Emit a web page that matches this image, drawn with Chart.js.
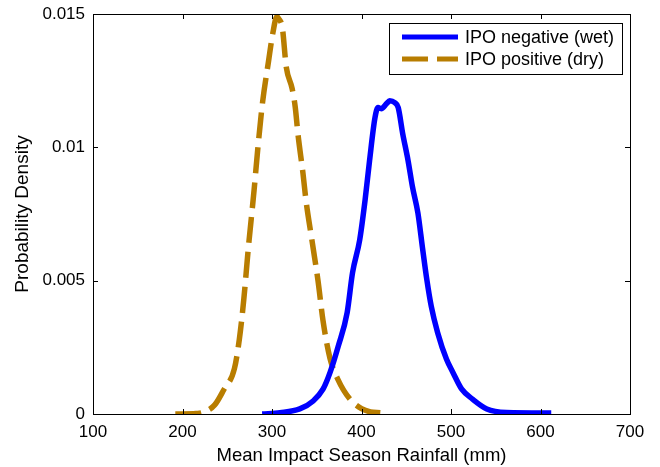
<!DOCTYPE html>
<html>
<head>
<meta charset="utf-8">
<script src="https://cdn.jsdelivr.net/npm/chart.js@4"></script>
<style>
  html, body { margin: 0; padding: 0; background: #fff; }
  #wrap { width: 660px; height: 467px; }
</style>
</head>
<body>
<div id="wrap"><canvas id="pdfChart" width="660" height="467"></canvas></div>
<script>
// rainfall (mm) vs probability density
const wetRain = [289, 309, 331, 346, 357, 365, 374, 384, 390, 398, 404, 409, 415, 418.5, 422, 428, 431.5, 437, 441, 446, 452, 457, 463, 468, 473, 478, 485, 495, 502, 512, 524, 540, 562, 612];
const wetDensity = [0, 0.00005, 0.00019, 0.00049, 0.00093, 0.00157, 0.00254, 0.00381, 0.0053, 0.00653, 0.00802, 0.0095, 0.0111, 0.01149, 0.01145, 0.01164, 0.01175, 0.01168, 0.01149, 0.01052, 0.00951, 0.00851, 0.00754, 0.00627, 0.00504, 0.00403, 0.00306, 0.00205, 0.00157, 0.00093, 0.00056, 0.00019, 0.00006, 0.00004];

const dryRain = [192, 215, 222, 236, 246, 258, 263.5, 268.5, 273.5, 280, 284, 289.5, 296, 301, 305.5, 308, 311.5, 316, 322.5, 326, 329, 334.7, 338, 344.7, 351.4, 357, 364.7, 373.6, 387, 400, 410, 421];
const dryDensity = [0, 0.00002, 0.00005, 0.00034, 0.0009, 0.0017, 0.0028, 0.0043, 0.0062, 0.0084, 0.0099, 0.0117, 0.0132, 0.0143, 0.0149, 0.0148, 0.0145, 0.0130, 0.0122, 0.0115, 0.0105, 0.0090, 0.0080, 0.0065, 0.0050, 0.0035, 0.0021, 0.0013, 0.00056, 0.0002, 0.00008, 0.00005];

const seriesNames = ['IPO negative (wet)', 'IPO positive (dry)'];
const xTicks = [100, 200, 300, 400, 500, 600, 700];
const yTicks = [0, 0.005, 0.01, 0.015];

const FONT = '"Liberation Sans", Arial, sans-serif';
const BLUE = '#0000ff';
const BROWN = '#b87d00';
const DASH = [26, 9];
const LINE_W = 5.5;

function toPoints(xs, ys) {
    return xs.map((x, i) => ({ x: x, y: ys[i] }));
}

// matlab style box with inward ticks + legend box
const boxPlugin = {
    id: 'boxPlugin',
    afterDraw(chart) {
        const c = chart.ctx;
        const a = chart.chartArea;
        const xs = chart.scales.x, ys = chart.scales.y;
        c.save();
        c.strokeStyle = '#000';
        c.lineWidth = 1;
        c.strokeRect(Math.round(a.left) + 0.5, Math.round(a.top) + 0.5,
            Math.round(a.right - a.left), Math.round(a.bottom - a.top));
        c.beginPath();
        xTicks.forEach(v => {
            const px = Math.round(xs.getPixelForValue(v)) + 0.5;
            c.moveTo(px, a.bottom); c.lineTo(px, a.bottom - 5);
            c.moveTo(px, a.top); c.lineTo(px, a.top + 5);
        });
        yTicks.forEach(v => {
            const py = Math.round(ys.getPixelForValue(v)) + 0.5;
            c.moveTo(a.left, py); c.lineTo(a.left + 5, py);
            c.moveTo(a.right, py); c.lineTo(a.right - 5, py);
        });
        c.stroke();

        // legend
        const lx = 389, ly = 23, lw = 233, lh = 51;
        c.fillStyle = '#fff';
        c.fillRect(lx, ly, lw, lh);
        c.strokeRect(lx + 0.5, ly + 0.5, lw, lh);
        const rows = [
            { color: BLUE, dash: [], y: 37 },
            { color: BROWN, dash: DASH, y: 59 }
        ];
        rows.forEach((r, i) => {
            c.beginPath();
            c.setLineDash(r.dash);
            c.strokeStyle = r.color;
            c.lineWidth = 5;
            c.moveTo(402, r.y); c.lineTo(458, r.y);
            c.stroke();
            c.setLineDash([]);
            c.fillStyle = '#000';
            c.font = '18px ' + FONT;
            c.textBaseline = 'middle';
            c.fillText(seriesNames[i], 465, r.y + 1);
        });
        c.restore();
    }
};

new Chart(document.getElementById('pdfChart').getContext('2d'), {
    type: 'line',
    data: {
        datasets: [
            {
                label: seriesNames[0],
                data: toPoints(wetRain, wetDensity),
                borderColor: BLUE,
                borderWidth: LINE_W,
                pointRadius: 0,
                fill: false,
                cubicInterpolationMode: 'monotone'
            },
            {
                label: seriesNames[1],
                data: toPoints(dryRain, dryDensity),
                borderColor: BROWN,
                borderWidth: LINE_W,
                borderDash: DASH,
                borderCapStyle: 'butt',
                pointRadius: 0,
                fill: false,
                cubicInterpolationMode: 'monotone'
            }
        ]
    },
    plugins: [boxPlugin],
    options: {
        responsive: false,
        animation: false,
        layout: { padding: { left: 0, right: 30, top: 14, bottom: 0 } },
        plugins: {
            legend: { display: false },
            tooltip: { enabled: false }
        },
        scales: {
            x: {
                type: 'linear',
                min: 100,
                max: 700,
                afterBuildTicks: s => { s.ticks = xTicks.map(v => ({ value: v })); },
                afterFit: s => { s.height = 53; s.paddingLeft = 0; s.paddingRight = 0; },
                grid: { display: false, drawTicks: false },
                border: { display: false },
                ticks: {
                    color: '#000',
                    font: { family: FONT, size: 17 },
                    padding: 8,
                    maxRotation: 0
                },
                title: {
                    display: true,
                    text: 'Mean Impact Season Rainfall (mm)',
                    color: '#000',
                    font: { family: FONT, size: 18.5 },
                    padding: { top: 0, bottom: 0 }
                }
            },
            y: {
                type: 'linear',
                min: 0,
                max: 0.015,
                afterBuildTicks: s => { s.ticks = yTicks.map(v => ({ value: v })); },
                afterFit: s => { s.width = 93; s.paddingTop = 0; s.paddingBottom = 0; },
                grid: { display: false, drawTicks: false },
                border: { display: false },
                ticks: {
                    color: '#000',
                    font: { family: FONT, size: 17 },
                    padding: 8,
                    callback: v => String(v)
                },
                title: {
                    display: true,
                    text: 'Probability Density',
                    color: '#000',
                    font: { family: FONT, size: 19 },
                    padding: { top: 11, bottom: 0 }
                }
            }
        }
    }
});
</script>
</body>
</html>
